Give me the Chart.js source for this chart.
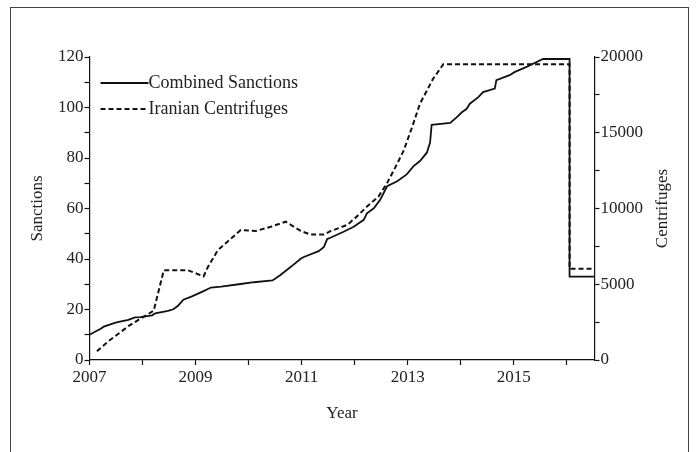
<!DOCTYPE html>
<html>
<head>
<meta charset="utf-8">
<script src="https://cdn.jsdelivr.net/npm/chart.js@4.4.1/dist/chart.umd.min.js"></script>
<style>
  html, body { margin: 0; padding: 0; background: #fff; }
  #frame { position: absolute; left: 10px; top: 7px; width: 677px; height: 500px; border: 1px solid #444; }
  #wrap { position: absolute; left: 0; top: 0; width: 697px; height: 452px; }
</style>
</head>
<body>
<div id="frame"></div>
<div id="wrap"><canvas id="chart" width="697" height="452"></canvas></div>
<script>
// Combined sanctions (left axis)
var sanctionYears = [2007.00, 2007.21, 2007.27, 2007.45, 2007.53, 2007.73, 2007.86, 2007.96, 2008.18, 2008.24,
  2008.48, 2008.58, 2008.67, 2008.77, 2008.93, 2009.12, 2009.29, 2009.48, 2009.85, 2010.10,
  2010.45, 2010.60, 2010.79, 2010.98, 2011.04, 2011.32, 2011.42, 2011.48, 2011.54, 2011.79,
  2011.98, 2012.17, 2012.23, 2012.36, 2012.48, 2012.61, 2012.80, 2012.98, 2013.11, 2013.23,
  2013.36, 2013.42, 2013.45, 2013.80, 2013.92, 2014.02, 2014.11, 2014.17, 2014.33, 2014.42,
  2014.64, 2014.67, 2014.92, 2015.02, 2015.24, 2015.42, 2015.55, 2016.05, 2016.05, 2016.52];
var sanctionValues = [10, 12.4, 13.2, 14.5, 15, 15.9, 16.9, 17, 17.7, 18.5,
  19.5, 20.1, 21.5, 23.9, 25.2, 27, 28.7, 29.1, 30.1, 30.8,
  31.5, 33.7, 36.8, 40.1, 40.8, 43.1, 44.8, 47.9, 48.4, 50.8,
  52.8, 55.5, 58.1, 60.1, 63.5, 68.8, 70.8, 73.5, 76.8, 78.8,
  82.1, 86.1, 93.1, 93.9, 96.1, 98.1, 99.5, 101.5, 104.1, 106.1,
  107.5, 110.8, 112.8, 114.1, 116.1, 117.9, 119.2, 119.2, 33, 33];

// Iranian centrifuges (right axis)
var centrifugeYears = [2007.14, 2007.36, 2007.74, 2007.96, 2008.21, 2008.40, 2008.86, 2009.15, 2009.23, 2009.42,
  2009.67, 2009.85, 2010.14, 2010.42, 2010.70, 2010.98, 2011.17, 2011.42, 2011.54, 2011.86,
  2012.04, 2012.23, 2012.45, 2012.61, 2012.76, 2012.92, 2013.08, 2013.23, 2013.48, 2013.67,
  2016.05, 2016.05, 2016.52];
var centrifugeValues = [580, 1250, 2250, 2730, 3250, 5920, 5920, 5520, 6130, 7250,
  8020, 8580, 8520, 8800, 9130, 8520, 8280, 8280, 8500, 8920,
  9470, 10130, 10800, 11680, 12680, 13800, 15350, 16920, 18580, 19520,
  19520, 6020, 6020];

var seriesLabels = ['Combined Sanctions', 'Iranian Centrifuges'];

function toPoints(xs, ys) {
  return xs.map(function (x, i) { return { x: x, y: ys[i] }; });
}

var serif = '"Liberation Serif", "Times New Roman", serif';
var ink = '#111';
var axisGrid = {
  display: true,
  drawOnChartArea: false,
  drawTicks: true,
  tickLength: 5,
  tickColor: ink,
  tickWidth: 1.2
};

// right axis title reads bottom-to-top, and the legend sits inside the plot
var extras = {
  id: 'extras',
  afterDraw: function (chart) {
    var ctx = chart.ctx;
    var area = chart.chartArea;
    var s = chart.scales.y1;
    ctx.save();
    ctx.fillStyle = '#222';
    ctx.textBaseline = 'middle';

    ctx.font = '18px ' + serif;
    chart.data.datasets.forEach(function (ds, i) {
      var y = area.top + 26 + i * 26;
      ctx.beginPath();
      ctx.setLineDash(ds.borderDash || []);
      ctx.lineWidth = ds.borderWidth;
      ctx.strokeStyle = ds.borderColor;
      ctx.moveTo(area.left + 11, y);
      ctx.lineTo(area.left + 59, y);
      ctx.stroke();
      ctx.textAlign = 'left';
      ctx.fillText(ds.label, area.left + 59, y);
    });

    ctx.setLineDash([]);
    ctx.font = '17px ' + serif;
    ctx.translate(s.right - 10.2, (s.top + s.bottom) / 2);
    ctx.rotate(-Math.PI / 2);
    ctx.textAlign = 'center';
    ctx.fillText('Centrifuges', 0, 0);
    ctx.restore();
  }
};

new Chart(document.getElementById('chart'), {
  type: 'line',
  data: {
    datasets: [{
      label: seriesLabels[0],
      data: toPoints(sanctionYears, sanctionValues),
      yAxisID: 'y',
      borderColor: ink,
      borderWidth: 1.8,
      pointRadius: 0,
      tension: 0,
      fill: false
    }, {
      label: seriesLabels[1],
      data: toPoints(centrifugeYears, centrifugeValues),
      yAxisID: 'y1',
      borderColor: ink,
      borderWidth: 2,
      borderDash: [5, 3],
      pointRadius: 0,
      tension: 0,
      fill: false
    }]
  },
  options: {
    responsive: false,
    animation: false,
    layout: { padding: { top: 57, left: 27.8, right: 23.8, bottom: 27.8 } },
    plugins: {
      tooltip: { enabled: false },
      legend: { display: false }
    },
    scales: {
      x: {
        type: 'linear',
        min: 2007,
        max: 2016.52,
        grid: axisGrid,
        border: { display: true, color: ink, width: 1.2 },
        ticks: {
          stepSize: 1,
          includeBounds: false,
          autoSkip: false,
          maxRotation: 0,
          padding: 2,
          color: '#222',
          font: { family: serif, size: 17 },
          callback: function (v) { return v % 2 === 1 ? String(v) : ''; }
        },
        title: { display: true, text: 'Year', color: '#222', font: { family: serif, size: 17 }, padding: { top: 14.4, bottom: 0 } }
      },
      y: {
        position: 'left',
        min: 0,
        max: 120,
        grid: axisGrid,
        border: { display: true, color: ink, width: 1.2 },
        ticks: {
          stepSize: 10,
          autoSkip: false,
          padding: 1,
          color: '#222',
          font: { family: serif, size: 17 },
          callback: function (v) { return v % 20 === 0 ? String(v) : ''; }
        },
        title: { display: true, text: 'Sanctions', color: '#222', font: { family: serif, size: 17 }, padding: { top: 0, bottom: 8.8 } }
      },
      y1: {
        position: 'right',
        min: 0,
        max: 20000,
        grid: axisGrid,
        border: { display: true, color: ink, width: 1.2 },
        ticks: {
          stepSize: 2500,
          autoSkip: false,
          padding: 1,
          color: '#222',
          font: { family: serif, size: 17 },
          callback: function (v) { return v % 5000 === 0 ? String(v) : ''; }
        },
        title: { display: true, text: 'Centrifuges', color: 'rgba(0,0,0,0)', font: { family: serif, size: 17 }, padding: { top: 0, bottom: 8.8 } }
      }
    }
  },
  plugins: [extras]
});
</script>
</body>
</html>
